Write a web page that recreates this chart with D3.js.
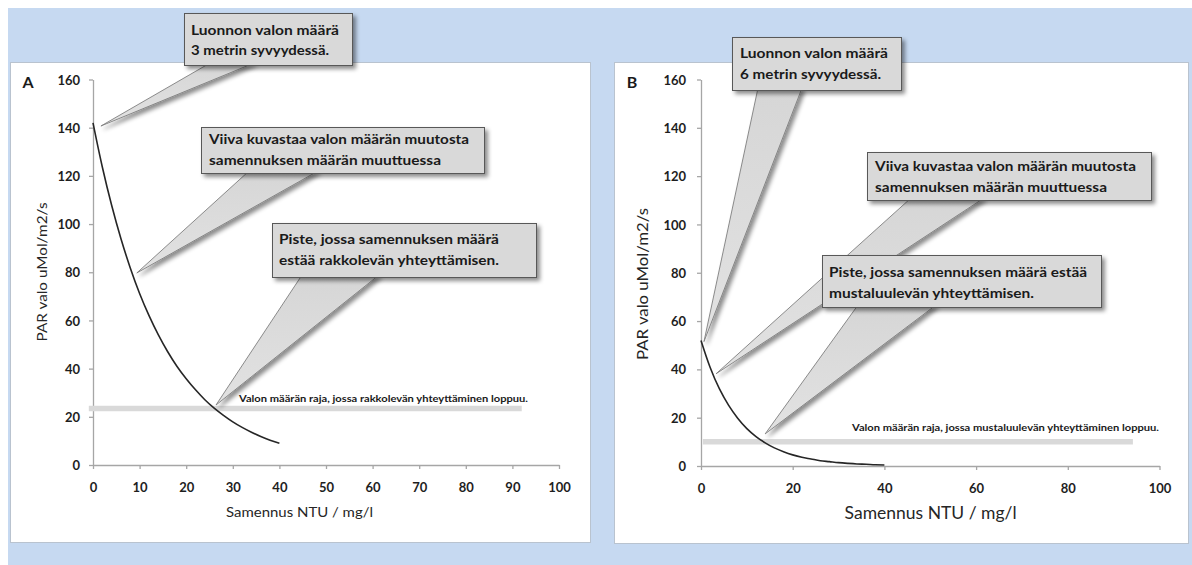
<!DOCTYPE html>
<html><head><meta charset="utf-8">
<script src="https://cdn.jsdelivr.net/npm/d3@7"></script>
<style>
html,body{margin:0;padding:0;background:#fff;}
svg{display:block;font-family:Lato,"Open Sans",sans-serif;}
</style></head>
<body>
<svg id="chart" width="1192" height="565"></svg>
<script>
// ---------- DATA ----------
const turbidityA = [0,2,4,6,8,10,12,14,16,18,20,22,24,26,28,30,32,34,36,38,40];
const parA       = [142,123.7,107.8,93.9,81.8,71.2,62.1,54.1,47.1,41.0,35.8,31.2,27.1,23.6,20.6,17.9,15.6,13.6,11.8,10.3,9.0];
const turbidityB = [0,2,4,6,8,10,12,14,16,18,20,22,24,26,28,30,32,34,36,38,40];
const parB       = [52,40.8,32,25.2,19.8,15.5,12.2,9.6,7.5,5.9,4.6,3.6,2.9,2.2,1.8,1.4,1.1,0.85,0.7,0.5,0.4];
const yTicks  = [0,20,40,60,80,100,120,140,160];
const xTicksA = [0,10,20,30,40,50,60,70,80,90,100];
const xTicksB = [0,20,40,60,80,100];
const thresholdA = 23.5, thresholdExtentA = [-0.9, 92];
const thresholdB = 10,   thresholdExtentB = [0.4, 94.2];
const thresholdTextA = "Valon määrän raja,  jossa rakkolevän yhteyttäminen  loppuu.";
const thresholdTextB = "Valon määrän raja,  jossa mustaluulevän yhteyttäminen  loppuu.";
const xTitle = "Samennus NTU / mg/l";
const yTitle = "PAR valo uMol/m2/s";
const calloutTextA = [
  ["Luonnon valon määrä","3 metrin syvyydessä."],
  ["Viiva kuvastaa valon määrän muutosta","samennuksen määrän muuttuessa"],
  ["Piste, jossa samennuksen määrä","estää rakkolevän yhteyttämisen."]
];
const calloutTipA = [[1.7,140.7],[9.4,79.7],[26.4,24.9]];
const calloutTextB = [
  ["Luonnon valon määrä","6 metrin syvyydessä."],
  ["Viiva kuvastaa valon määrän muutosta","samennuksen määrän muuttuessa"],
  ["Piste, jossa samennuksen määrä estää","mustaluulevän yhteyttämisen."]
];
const calloutTipB = [[0.65,51.5],[3.3,38.2],[14,13.3]];

// ---------- LAYOUT ----------
const svg = d3.select("#chart");
const defs = svg.append("defs");
const f = defs.append("filter").attr("id","shadow").attr("x","-20%").attr("y","-20%").attr("width","150%").attr("height","160%");
f.append("feDropShadow").attr("dx",3).attr("dy",3).attr("stdDeviation",2).attr("flood-color","#000").attr("flood-opacity",0.45);
const g1 = defs.append("linearGradient").attr("id","wedgeGrad").attr("x1","0").attr("y1","0").attr("x2","0").attr("y2","1");
g1.append("stop").attr("offset","0").attr("stop-color","#d6d6d6");
g1.append("stop").attr("offset","1").attr("stop-color","#e2e2e2");

svg.append("rect").attr("x",8).attr("y",8).attr("width",1184).attr("height",557).attr("fill","#c6d9f1");

const panels = [
  {
    rect:[10,62,580,480], letter:"A", letterPos:[28,82],
    x0:93, x1:559, yBottom:465, yTop:79.5, xTicks:xTicksA, yPad:9,
    xs:turbidityA, ys:parA, thr:thresholdA, thrExt:thresholdExtentA,
    thrText:thresholdTextA, thrTextPos:[239,399,289],
    xTitlePos:[299.5,512,147,14], yTitlePos:[42,272,139,14],
    callText:calloutTextA, callTip:calloutTipA,
    boxes:[
      {x:184,y:13,w:168,h:52,b:[210,254],tx:191,ly:[30,50],tl:[148,138]},
      {x:201,y:127,w:283,h:46,b:[249,318],tx:209,ly:[139,160],tl:[260,232]},
      {x:272,y:223,w:264,h:54,b:[302,379],tx:279,ly:[239,260],tl:[220,220]}
    ]
  },
  {
    rect:[614,62,574,481], letter:"B", letterPos:[632,82],
    x0:701, x1:1159.5, yBottom:466, yTop:79.5, xTicks:xTicksB, yPad:11,
    xs:turbidityB, ys:parB, thr:thresholdB, thrExt:thresholdExtentB,
    thrText:thresholdTextB, thrTextPos:[852,428,307],
    xTitlePos:[930.6,513,172,17], yTitlePos:[642,284,152,16],
    callText:calloutTextB, callTip:calloutTipB,
    boxes:[
      {x:732,y:37,w:169,h:53,b:[758,802],tx:740,ly:[53,74],tl:[148,141]},
      {x:867,y:152,w:284,h:48,b:[911,984],tx:875,ly:[166,187],tl:[261,232]},
      {x:822,y:255,w:279,h:52,b:[858,936],tx:829,ly:[272,293],tl:[258,205]}
    ]
  }
];

panels.forEach(p => {
  const g = svg.append("g");
  g.append("rect").attr("x",p.rect[0]+0.5).attr("y",p.rect[1]+0.5).attr("width",p.rect[2]).attr("height",p.rect[3])
    .attr("fill","#fff").attr("stroke","#b9c3cf").attr("stroke-width",1);

  const x = d3.scaleLinear().domain([0,100]).range([p.x0,p.x1]);
  const y = d3.scaleLinear().domain([0,160]).range([p.yBottom,p.yTop]);

  // axes
  const ya = g.append("g").attr("transform",`translate(${p.x0},0)`)
    .call(d3.axisLeft(y).tickValues(yTicks).tickSize(4).tickSizeOuter(0).tickPadding(p.yPad));
  const xa = g.append("g").attr("transform",`translate(0,${p.yBottom})`)
    .call(d3.axisBottom(x).tickValues(p.xTicks).tickSize(4).tickSizeOuter(0));
  [ya,xa].forEach(a=>{
    a.select(".domain").attr("stroke","#a6a6a6").attr("stroke-width",1.3);
    a.selectAll(".tick line").attr("stroke","#a6a6a6").attr("stroke-width",1.3);
    a.selectAll(".tick text").attr("fill","#1e1e1e").attr("font-size",13).attr("font-weight","bold")
      .attr("font-family","Lato,sans-serif");
  });
  xa.selectAll(".tick text").attr("y",22).attr("dy","0.35em");
  ya.selectAll(".tick text").attr("dy","0.35em");

  // letter
  g.append("text").attr("x",p.letterPos[0]).attr("y",p.letterPos[1]).attr("dy","0.35em")
    .attr("text-anchor","middle").attr("font-size",16).attr("font-weight","bold").attr("fill","#1a1a1a").text(p.letter);

  // titles
  g.append("text").attr("x",p.xTitlePos[0]).attr("y",p.xTitlePos[1]).attr("dy","0.35em")
    .attr("text-anchor","middle").attr("font-size",p.xTitlePos[3]).attr("fill","#262626")
    .attr("textLength",p.xTitlePos[2]).attr("lengthAdjust","spacingAndGlyphs").text(xTitle);
  g.append("text").attr("transform",`translate(${p.yTitlePos[0]},${p.yTitlePos[1]}) rotate(-90)`).attr("dy","0.35em")
    .attr("text-anchor","middle").attr("font-size",p.yTitlePos[3]).attr("fill","#262626")
    .attr("textLength",p.yTitlePos[2]).attr("lengthAdjust","spacingAndGlyphs").text(yTitle);

  // threshold band
  g.append("line").attr("x1",x(p.thrExt[0])).attr("x2",x(p.thrExt[1])).attr("y1",y(p.thr)).attr("y2",y(p.thr))
    .attr("stroke","#d9d9d9").attr("stroke-width",5.5);
  g.append("text").attr("x",p.thrTextPos[0]).attr("y",p.thrTextPos[1]).attr("dy","0.35em")
    .attr("font-size",9).attr("font-weight","bold").attr("fill","#1a1a1a")
    .attr("textLength",p.thrTextPos[2]).attr("lengthAdjust","spacingAndGlyphs").text(p.thrText);

  // curve
  const pts = p.xs.map((v,i)=>[v,p.ys[i]]);
  g.append("path").datum(pts)
    .attr("d", d3.line().x(d=>x(d[0])).y(d=>y(d[1])).curve(d3.curveCatmullRom.alpha(0.5)))
    .attr("fill","none").attr("stroke","#262626").attr("stroke-width",1.6);

  // callouts
  p.boxes.forEach((b,i)=>{
    const tip = p.callTip[i];
    const tx = x(tip[0]), ty = y(tip[1]);
    const by = b.y + b.h - 2;
    const cg = g.append("g");
    cg.append("path").attr("d",`M${b.b[0]},${by}L${tx},${ty}L${b.b[1]},${by}Z`)
      .attr("fill","url(#wedgeGrad)").attr("stroke","#7f7f7f").attr("stroke-width",0.9)
      .attr("filter","url(#shadow)");
    cg.append("rect").attr("x",b.x+0.5).attr("y",b.y+0.5).attr("width",b.w).attr("height",b.h)
      .attr("fill","#d9d9d9").attr("stroke","#595959").attr("stroke-width",1)
      .attr("filter","url(#shadow)");
    p.callText[i].forEach((line,j)=>{
      cg.append("text").attr("x",b.tx).attr("y",b.ly[j]).attr("dy","0.35em")
        .attr("font-size",14).attr("font-weight","bold").attr("fill","#1a1a1a")
        .attr("textLength",b.tl[j]).attr("lengthAdjust","spacingAndGlyphs").text(line);
    });
  });
});
</script>
</body></html>
